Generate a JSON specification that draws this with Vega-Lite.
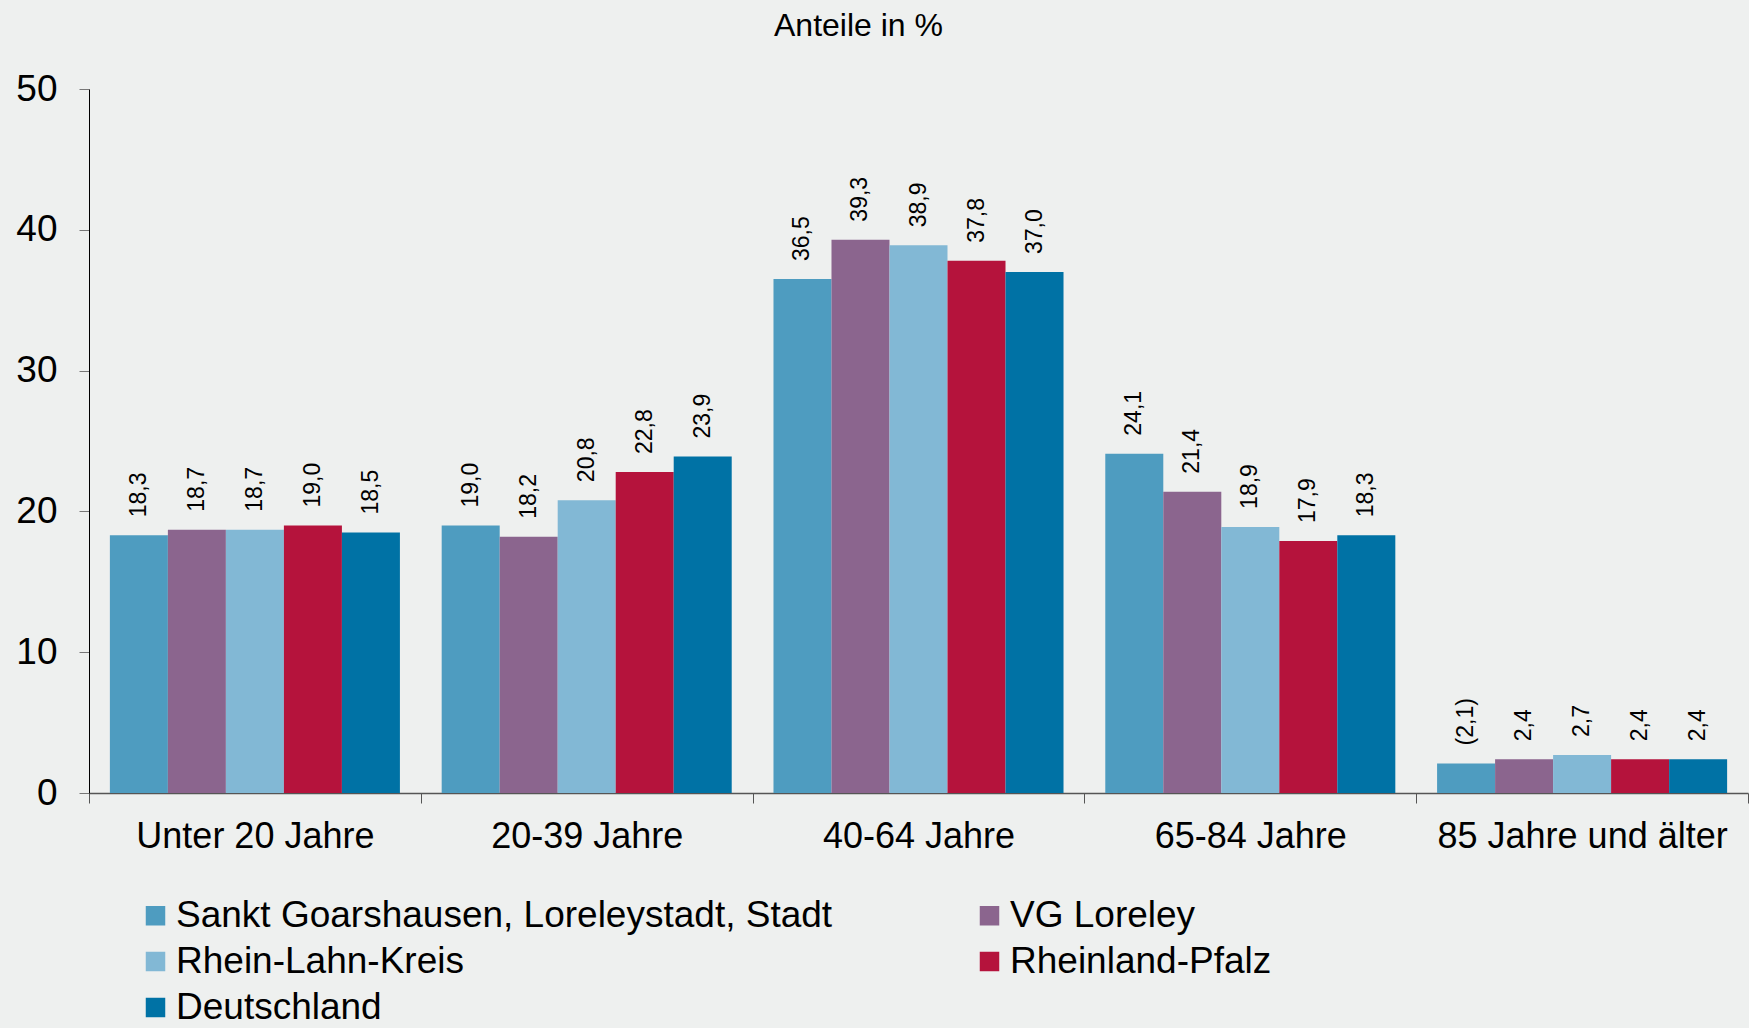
{
  "$schema": "https://vega.github.io/schema/vega-lite/v6.json",
  "width": 1659,
  "height": 704,
  "autosize": {"type": "none"},
  "padding": {"left": 89, "top": 89, "right": 1, "bottom": 235},
  "background": "#EEF0EF",
  "title": {
    "text": "Anteile in %",
    "fontSize": 32,
    "font": "Liberation Sans",
    "fontWeight": "normal",
    "color": "#000000",
    "anchor": "middle",
    "dx": -60,
    "offset": 27
  },
  "config": {
    "view": {"stroke": null},
    "font": "Liberation Sans"
  },
  "data": {
    "values": [
      {"group": "Unter 20 Jahre", "region": "Sankt Goarshausen, Loreleystadt, Stadt", "value": 18.3, "label": "18,3"},
      {"group": "Unter 20 Jahre", "region": "VG Loreley", "value": 18.7, "label": "18,7"},
      {"group": "Unter 20 Jahre", "region": "Rhein-Lahn-Kreis", "value": 18.7, "label": "18,7"},
      {"group": "Unter 20 Jahre", "region": "Rheinland-Pfalz", "value": 19.0, "label": "19,0"},
      {"group": "Unter 20 Jahre", "region": "Deutschland", "value": 18.5, "label": "18,5"},
      {"group": "20-39 Jahre", "region": "Sankt Goarshausen, Loreleystadt, Stadt", "value": 19.0, "label": "19,0"},
      {"group": "20-39 Jahre", "region": "VG Loreley", "value": 18.2, "label": "18,2"},
      {"group": "20-39 Jahre", "region": "Rhein-Lahn-Kreis", "value": 20.8, "label": "20,8"},
      {"group": "20-39 Jahre", "region": "Rheinland-Pfalz", "value": 22.8, "label": "22,8"},
      {"group": "20-39 Jahre", "region": "Deutschland", "value": 23.9, "label": "23,9"},
      {"group": "40-64 Jahre", "region": "Sankt Goarshausen, Loreleystadt, Stadt", "value": 36.5, "label": "36,5"},
      {"group": "40-64 Jahre", "region": "VG Loreley", "value": 39.3, "label": "39,3"},
      {"group": "40-64 Jahre", "region": "Rhein-Lahn-Kreis", "value": 38.9, "label": "38,9"},
      {"group": "40-64 Jahre", "region": "Rheinland-Pfalz", "value": 37.8, "label": "37,8"},
      {"group": "40-64 Jahre", "region": "Deutschland", "value": 37.0, "label": "37,0"},
      {"group": "65-84 Jahre", "region": "Sankt Goarshausen, Loreleystadt, Stadt", "value": 24.1, "label": "24,1"},
      {"group": "65-84 Jahre", "region": "VG Loreley", "value": 21.4, "label": "21,4"},
      {"group": "65-84 Jahre", "region": "Rhein-Lahn-Kreis", "value": 18.9, "label": "18,9"},
      {"group": "65-84 Jahre", "region": "Rheinland-Pfalz", "value": 17.9, "label": "17,9"},
      {"group": "65-84 Jahre", "region": "Deutschland", "value": 18.3, "label": "18,3"},
      {"group": "85 Jahre und älter", "region": "Sankt Goarshausen, Loreleystadt, Stadt", "value": 2.1, "label": "(2,1)"},
      {"group": "85 Jahre und älter", "region": "VG Loreley", "value": 2.4, "label": "2,4"},
      {"group": "85 Jahre und älter", "region": "Rhein-Lahn-Kreis", "value": 2.7, "label": "2,7"},
      {"group": "85 Jahre und älter", "region": "Rheinland-Pfalz", "value": 2.4, "label": "2,4"},
      {"group": "85 Jahre und älter", "region": "Deutschland", "value": 2.4, "label": "2,4"}
    ]
  },
  "encoding": {
    "x": {
      "field": "group",
      "type": "nominal",
      "sort": null,
      "scale": {"paddingInner": 0, "paddingOuter": 0},
      "axis": {
        "title": null,
        "labelAngle": 0,
        "labelFontSize": 36,
        "labelColor": "#000000",
        "labelPadding": 16,
        "labelLimit": 1000,
        "tickBand": "extent",
        "tickSize": 10,
        "tickColor": "#555555",
        "domainColor": "#555555",
        "domainWidth": 1.5
      }
    },
    "xOffset": {
      "field": "region",
      "type": "nominal",
      "sort": ["Sankt Goarshausen, Loreleystadt, Stadt", "VG Loreley", "Rhein-Lahn-Kreis", "Rheinland-Pfalz", "Deutschland"],
      "scale": {"paddingInner": 0, "paddingOuter": 0.36}
    },
    "y": {
      "field": "value",
      "type": "quantitative",
      "scale": {"domain": [0, 50], "nice": false},
      "axis": {
        "title": null,
        "values": [0, 10, 20, 30, 40, 50],
        "grid": false,
        "labelFontSize": 37,
        "labelColor": "#000000",
        "labelPadding": 22,
        "tickSize": 10,
        "tickColor": "#777777",
        "domainColor": "#000000"
      }
    }
  },
  "layer": [
    {
      "mark": {"type": "bar"},
      "encoding": {
        "color": {
          "field": "region",
          "type": "nominal",
          "sort": ["Sankt Goarshausen, Loreleystadt, Stadt", "VG Loreley", "Rhein-Lahn-Kreis", "Rheinland-Pfalz", "Deutschland"],
          "scale": {
            "domain": ["Sankt Goarshausen, Loreleystadt, Stadt", "VG Loreley", "Rhein-Lahn-Kreis", "Rheinland-Pfalz", "Deutschland"],
            "range": ["#4E9CC0", "#8B658E", "#82B8D5", "#B5133C", "#0072A5"]
          },
          "legend": {
            "title": null,
            "orient": "none",
            "legendX": 48,
            "legendY": 808,
            "direction": "horizontal",
            "columns": 2,
            "columnPadding": 138,
            "rowPadding": 8,
            "symbolType": "square",
            "symbolSize": 380,
            "symbolStrokeWidth": 0,
            "labelFontSize": 37,
            "labelColor": "#000000",
            "labelLimit": 1000,
            "labelOffset": 2
          }
        }
      }
    },
    {
      "mark": {
        "type": "text",
        "angle": 270,
        "align": "left",
        "baseline": "middle",
        "dx": 18,
        "fontSize": 23,
        "color": "#000000"
      },
      "encoding": {
        "text": {"field": "label"}
      }
    }
  ]
}
